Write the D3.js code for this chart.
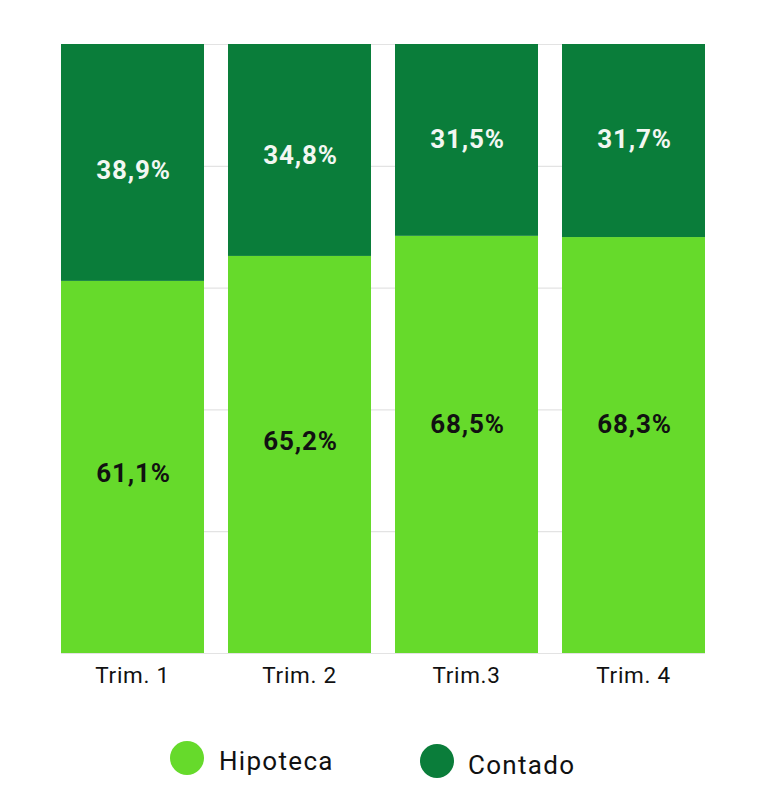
<!DOCTYPE html>
<html>
<head>
<meta charset="utf-8">
<script src="https://cdn.jsdelivr.net/npm/d3@7"></script>
<style>
  html, body { margin: 0; padding: 0; background: #fff; }
  svg { display: block; font-family: Roboto, "Noto Sans", sans-serif; }
</style>
</head>
<body>
<svg id="chart" width="767" height="809"></svg>
<script>
// ---- data ----
const categories = ["Trim. 1", "Trim. 2", "Trim.3", "Trim. 4"];
const hipoteca = [61.1, 65.2, 68.5, 68.3];
const contado = [38.9, 34.8, 31.5, 31.7];
const seriesNames = ["Hipoteca", "Contado"];
const gridTicks = [0, 20, 40, 60, 80, 100];

// ---- styling (kept apart from data) ----
const colors = { Hipoteca: "#66da2b", Contado: "#0a7d3a" };
const labelColors = { Hipoteca: "#111111", Contado: "#f2f7f2" };
// small hand-placement nudges of value labels (px), as in the reference
const nudge = { Hipoteca: [6, -13.5, -20.5, -21], Contado: [7.5, 5, -1, -1.5] };

const svg = d3.select("#chart");
const margin = { left: 61, right: 62, top: 44, bottom: 156 };
const W = 767, H = 809;

const x = d3.scaleBand().domain(categories)
  .range([margin.left, W - margin.right])
  .paddingInner(24 / 167).paddingOuter(0);
const y = d3.scaleLinear().domain([0, 100]).range([H - margin.bottom, margin.top]);

// gridlines
svg.append("g").selectAll("line").data(gridTicks).join("line")
  .attr("x1", margin.left).attr("x2", W - margin.right)
  .attr("y1", d => y(d) + 0.5).attr("y2", d => y(d) + 0.5)
  .attr("stroke", "#e3e3e3").attr("stroke-width", 1.2);

const rows = categories.map((c, i) => ({ cat: c, Hipoteca: hipoteca[i], Contado: contado[i] }));
const stack = d3.stack().keys(seriesNames)(rows);

const layers = svg.append("g").selectAll("g").data(stack).join("g")
  .attr("fill", d => colors[d.key]);
layers.selectAll("rect").data(d => d).join("rect")
  .attr("x", d => x(d.data.cat))
  .attr("width", x.bandwidth())
  .attr("y", d => y(d[1]))
  .attr("height", d => y(d[0]) - y(d[1]));

// value labels
const fmt = v => v.toFixed(1).replace(".", ",") + "%";
const lab = svg.append("g");
stack.forEach(layer => {
  layer.forEach((d, i) => {
    const mid = (y(d[0]) + y(d[1])) / 2;
    lab.append("text")
      .attr("x", x(d.data.cat) + x.bandwidth() / 2 + 1)
      .attr("y", mid + 9 + nudge[layer.key][i])
      .attr("text-anchor", "middle")
      .attr("font-size", 26)
      .attr("font-weight", 700)
      .attr("letter-spacing", 0.8)
      .attr("fill", labelColors[layer.key])
      .text(fmt(d[1] - d[0]));
  });
});

// x axis labels
const xAxis = svg.append("g")
  .attr("transform", `translate(0,${y(0)})`)
  .call(d3.axisBottom(x).tickSize(0).tickPadding(30));
xAxis.select(".domain").remove();
xAxis.selectAll("text")
  .attr("font-family", "Roboto, sans-serif")
  .attr("font-size", 22.5)
  .attr("letter-spacing", 0.7)
  .attr("fill", "#111")
  .attr("dy", 0);

// legend
const legendItems = [
  { name: seriesNames[0], cx: 187, cy: 758, tx: 219, ty: 770 },
  { name: seriesNames[1], cx: 437, cy: 761, tx: 468, ty: 774 }
];
const lg = svg.append("g");
legendItems.forEach(it => {
  lg.append("circle").attr("cx", it.cx).attr("cy", it.cy).attr("r", 17)
    .attr("fill", colors[it.name]);
  lg.append("text").attr("x", it.tx).attr("y", it.ty)
    .attr("font-size", 26).attr("letter-spacing", 1.3)
    .attr("fill", "#111").text(it.name);
});
</script>
</body>
</html>
